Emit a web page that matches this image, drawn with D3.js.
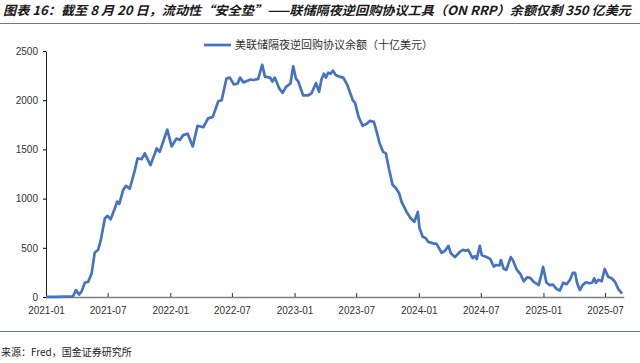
<!DOCTYPE html>
<html>
<head>
<meta charset="utf-8">
<script src="https://cdn.jsdelivr.net/npm/d3@7"></script>
<style>
  body { margin: 0; background: #fff; }
  svg { display: block; }
</style>
</head>
<body>
<script>
// ON RRP balance, billions of USD
const dates = [
  '2021-01-01','2021-01-27','2021-02-25','2021-03-21','2021-03-30','2021-04-08','2021-04-16','2021-04-25',
  '2021-05-05','2021-05-15','2021-05-24','2021-06-03','2021-06-11','2021-06-23','2021-07-01','2021-07-10',
  '2021-07-22','2021-07-29','2021-08-04','2021-08-16','2021-08-24','2021-09-04','2021-09-19','2021-09-27',
  '2021-10-09','2021-10-18','2021-11-04','2021-11-22','2021-12-01','2021-12-23','2022-01-05','2022-01-19',
  '2022-01-29','2022-02-08','2022-02-21','2022-03-08','2022-03-22','2022-04-08','2022-04-22','2022-05-06',
  '2022-05-22','2022-06-01','2022-06-15','2022-06-25','2022-07-07','2022-07-18','2022-07-25','2022-08-04',
  '2022-08-24','2022-09-02','2022-09-16','2022-09-28','2022-10-06','2022-10-21','2022-10-28','2022-11-04',
  '2022-11-17','2022-11-27','2022-12-07','2022-12-20','2022-12-28','2023-01-05','2023-01-12','2023-01-26',
  '2023-02-10','2023-02-20','2023-03-05','2023-03-14','2023-03-21','2023-03-28','2023-04-03','2023-04-10',
  '2023-04-17','2023-04-24','2023-05-02','2023-05-12','2023-05-24','2023-06-05','2023-06-21','2023-06-28',
  '2023-07-08','2023-07-20','2023-08-01','2023-08-10','2023-08-22','2023-08-30','2023-09-08','2023-09-18',
  '2023-09-26','2023-10-06','2023-10-16','2023-10-26','2023-11-04','2023-11-11','2023-11-26','2023-12-08',
  '2023-12-19','2023-12-29','2024-01-03','2024-01-12','2024-01-22','2024-01-29','2024-02-12','2024-02-22',
  '2024-03-08','2024-03-18','2024-03-28','2024-04-04','2024-04-16','2024-05-01','2024-05-10','2024-05-18',
  '2024-05-25','2024-06-07','2024-06-14','2024-06-19','2024-06-28','2024-07-04','2024-07-19','2024-07-29',
  '2024-08-08','2024-08-15','2024-08-25','2024-08-29','2024-09-06','2024-09-14','2024-09-27','2024-10-03',
  '2024-10-15','2024-10-25','2024-11-04','2024-11-14','2024-11-23','2024-12-03','2024-12-18','2024-12-25',
  '2024-12-31','2025-01-10','2025-01-20','2025-01-29','2025-02-09','2025-02-18','2025-02-28','2025-03-10',
  '2025-03-20','2025-03-28','2025-04-04','2025-04-10','2025-04-18','2025-04-27','2025-05-06','2025-05-15',
  '2025-05-24','2025-05-30','2025-06-04','2025-06-11','2025-06-21','2025-06-30','2025-07-10','2025-07-20',
  '2025-07-30','2025-08-09','2025-08-20'
];
const rrpValues = [
  2, 1, 3, 5, 70, 25, 60, 145,
  155, 240, 450, 480, 580, 800, 825, 790,
  900, 970, 945, 1090, 1130, 1100, 1290, 1410,
  1400, 1460, 1340, 1510, 1475, 1700, 1530, 1610,
  1595, 1645, 1660, 1530, 1740, 1725, 1815, 1830,
  1990, 2000, 2220, 2230, 2160, 2170, 2230, 2180,
  2210, 2205, 2215, 2360, 2240, 2230, 2190, 2230,
  2120, 2075, 2135, 2170, 2345, 2220, 2190, 2050,
  2050, 2070, 2175, 2085, 2210, 2270, 2230, 2280,
  2270, 2300, 2255, 2240, 2230, 2155, 2000, 1970,
  1830, 1740, 1760, 1790, 1780, 1680, 1560, 1475,
  1460, 1290, 1140, 1105, 1055, 970, 865, 800,
  765, 865, 700, 615, 595, 560, 545, 540,
  450, 470, 520, 445, 405, 460, 480, 470,
  480, 395, 415, 385, 520, 425, 405, 385,
  310, 325, 320, 375, 290, 275, 405, 375,
  275, 235, 160, 200, 195, 155, 120, 215,
  305, 145, 120, 125, 80, 65, 145, 130,
  175, 245, 245, 140, 70, 125, 150, 140,
  145, 190, 145, 175, 160, 285, 205, 190,
  155, 80, 35
];
const yTicks = [0, 500, 1000, 1500, 2000, 2500];
const xTickDates = ['2021-01-01','2021-07-01','2022-01-01','2022-07-01','2023-01-01',
  '2023-07-01','2024-01-01','2024-07-01','2025-01-01','2025-07-01'];

const titleText = '图表 16：截至 8 月 20 日，流动性“安全垫”——联储隔夜逆回购协议工具（ON RRP）余额仅剩 350 亿美元';
const legendText = '美联储隔夜逆回购协议余额（十亿美元）';
const sourceText = '来源：Fred，国金证券研究所';

const render = () => {
  const width = 640;
  const height = 363;
  const parse = d3.timeParse('%Y-%m-%d');
  const dataset = dates.map((d, i) => [parse(d), rrpValues[i]]);

  const svg = d3.select('body').append('svg')
    .attr('width', width)
    .attr('height', height);

  // title and rule under it
  svg.append('text')
    .attr('x', 3)
    .attr('y', 15)
    .attr('textLength', 628)
    .attr('lengthAdjust', 'spacingAndGlyphs')
    .style('font-family', '"Noto Sans CJK SC", sans-serif')
    .style('font-size', '12.5px')
    .style('font-weight', 'bold')
    .style('font-style', 'italic')
    .style('fill', '#1a1a1a')
    .text(titleText);

  svg.append('line')
    .attr('x1', 0).attr('x2', width)
    .attr('y1', 23.5).attr('y2', 23.5)
    .style('stroke', '#5f7f9c')
    .style('stroke-width', 1);

  const xScale = d3.scaleTime()
    .domain([parse('2021-01-01'), parse('2025-08-25')])
    .range([46, 623.8]);

  const yScale = d3.scaleLinear()
    .domain([0, 2500])
    .range([297, 51]);

  const xAxis = d3.axisBottom(xScale)
    .tickValues(xTickDates.map(parse))
    .tickFormat(d3.timeFormat('%Y-%m'))
    .tickSizeInner(-4)
    .tickSizeOuter(0)
    .tickPadding(10);

  const yAxis = d3.axisLeft(yScale)
    .tickValues(yTicks)
    .tickFormat(d3.format('d'))
    .tickSizeInner(3)
    .tickSizeOuter(0)
    .tickPadding(5);

  const xAxisG = svg.append('g')
    .attr('transform', `translate(0, ${yScale(0)})`)
    .call(xAxis);
  xAxisG.select('.domain').style('stroke', '#808080').style('stroke-width', 1.6);
  xAxisG.selectAll('.tick line').style('stroke', '#333');

  const yAxisG = svg.append('g')
    .attr('transform', `translate(${xScale.range()[0]}, 0)`)
    .call(yAxis);
  yAxisG.select('.domain').style('stroke', '#222');

  svg.selectAll('.tick text')
    .style('font-family', '"Liberation Sans", Arial, sans-serif')
    .style('font-size', '10px')
    .style('fill', '#333');

  const line = d3.line()
    .x(d => xScale(d[0]))
    .y(d => yScale(d[1]));

  svg.append('path')
    .datum(dataset)
    .attr('d', line)
    .style('fill', 'none')
    .style('stroke', '#4472c4')
    .style('stroke-width', 2.7)
    .style('stroke-linejoin', 'round');

  // legend
  const legend = svg.append('g').attr('transform', 'translate(204, 45)');
  legend.append('line')
    .attr('x1', 0).attr('x2', 27)
    .style('stroke', '#4472c4')
    .style('stroke-width', 2.7);
  legend.append('text')
    .attr('x', 31)
    .attr('y', 4)
    .style('font-family', '"Noto Sans CJK SC", sans-serif')
    .style('font-size', '11px')
    .style('fill', '#333')
    .text(legendText);

  // source note
  svg.append('line')
    .attr('x1', 0).attr('x2', width)
    .attr('y1', 331.5).attr('y2', 331.5)
    .style('stroke', '#5f7f9c')
    .style('stroke-width', 1);

  svg.append('text')
    .attr('x', 1)
    .attr('y', 356)
    .style('font-family', '"Noto Sans CJK SC", sans-serif')
    .style('font-size', '10px')
    .style('fill', '#222')
    .text(sourceText);
};

render();
</script>
</body>
</html>
